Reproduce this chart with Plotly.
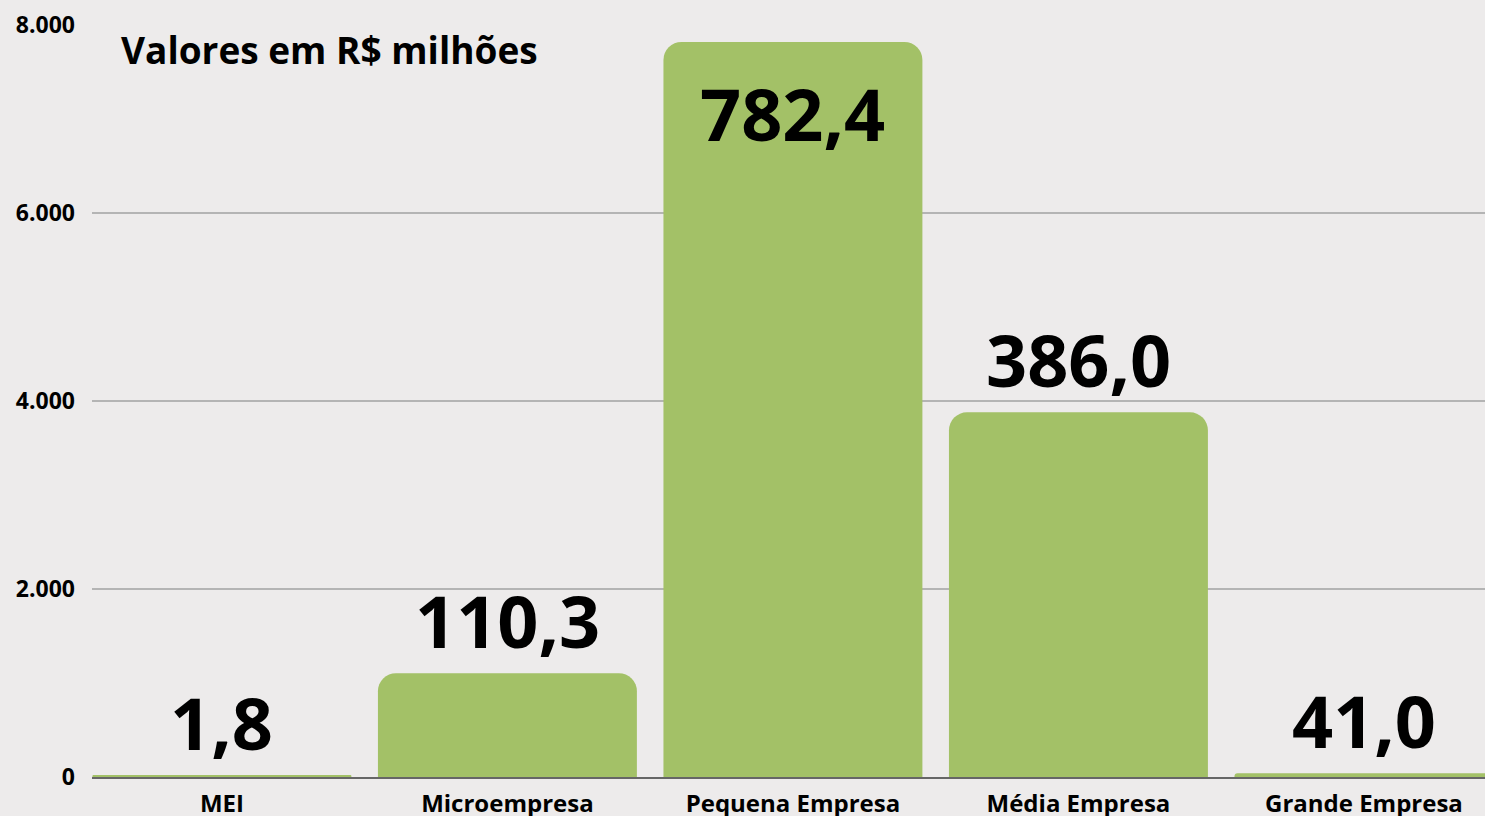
import plotly.graph_objects as go

categories = ["MEI", "Microempresa", "Pequena Empresa", "Média Empresa", "Grande Empresa"]
bar_values = [18, 1105, 7820, 3880, 40]
value_labels = ["1,8", "110,3", "782,4", "386,0", "41,0"]
y_tickvals = [0, 2000, 4000, 6000, 8000]
y_ticktext = ["0", "2.000", "4.000", "6.000", "8.000"]

FONT = "Open Sans"
BG = "#edebeb"
BAR = "#a3c167"

fig = go.Figure()
fig.add_trace(go.Bar(
    x=list(range(len(categories))), y=bar_values,
    marker=dict(color=BAR, line=dict(width=0)),
    width=0.907,
    hoverinfo="skip",
))

annotations = []
for i, (v, lab) in enumerate(zip(bar_values, value_labels)):
    inside = v > 7000
    annotations.append(dict(
        x=i, y=v, xref="x", yref="y", text=f"<b>{lab}</b>", showarrow=False,
        font=dict(family=FONT, size=72, color="black"),
        yanchor="top" if inside else "bottom",
        yshift=-20 if inside else 2,
    ))
annotations.append(dict(
    x=(119 - 92) / 1393, y=(777 - 50) / 752, xref="paper", yref="paper",
    text="<b>Valores em R$ milhões</b>", xanchor="left", yanchor="middle",
    showarrow=False, font=dict(family=FONT, size=37, color="black"),
))

fig.update_layout(
    width=1485, height=816,
    margin=dict(l=92, r=0, t=25, b=39),
    paper_bgcolor=BG, plot_bgcolor=BG,
    showlegend=False,
    bargap=0.093,
    barcornerradius=18,
    annotations=annotations,
    font=dict(family=FONT, color="black"),
)
fig.update_xaxes(
    range=[-0.455, 4.424], automargin=False,
    tickmode="array", tickvals=list(range(len(categories))),
    ticktext=[f"<b>{c}</b>" for c in categories],
    tickfont=dict(family=FONT, size=24, color="black"),
    showgrid=False, zeroline=False, showline=True, linecolor="#666666", linewidth=2,
    ticks="", ticklabelstandoff=4,
)
fig.update_yaxes(
    range=[0, 8000], automargin=False,
    tickmode="array", tickvals=y_tickvals, ticktext=[f"<b>{t}</b>" for t in y_ticktext],
    tickfont=dict(family=FONT, size=23, color="black"),
    showgrid=True, gridcolor="#b4b4b4", gridwidth=1.5,
    zeroline=False, ticks="", ticklabelstandoff=16,
)

fig.write_html(
    "out.html",
    config={"displayModeBar": False},
    post_script="document.body.style.margin='0';document.body.style.overflow='hidden';",
)
